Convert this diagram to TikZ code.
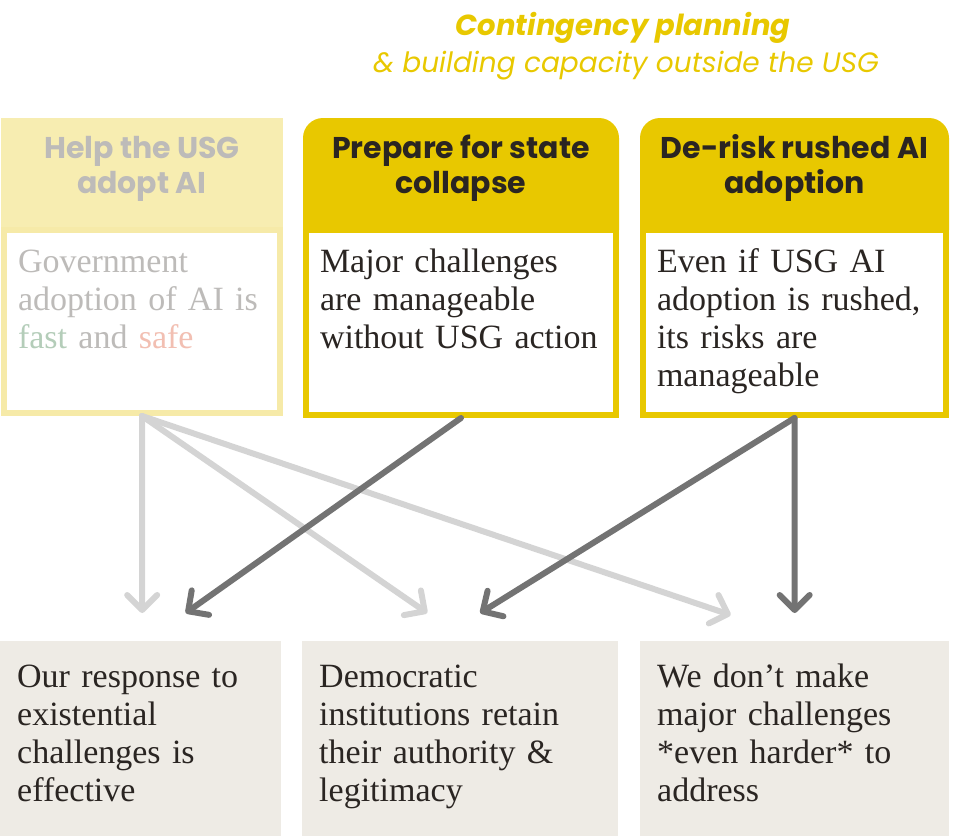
\documentclass[tikz,border=0pt]{standalone}
\usepackage{fontspec}
\setmainfont{Liberation Serif}
\newfontfamily\headfont{Poppins}
\usetikzlibrary{arrows.meta,positioning}

\definecolor{gold}{HTML}{E8C800}
\definecolor{paleyellow}{HTML}{F7EDB1}
\definecolor{paleborder}{HTML}{F6EAA8}
\definecolor{fadedtext}{HTML}{BDBBB9}
\definecolor{inktext}{HTML}{2A2522}
\definecolor{sand}{HTML}{EEEBE5}
\definecolor{lightarrow}{HTML}{D4D4D4}
\definecolor{darkarrow}{HTML}{737373}
\definecolor{fastgreen}{HTML}{B4CDB9}
\definecolor{safepink}{HTML}{F2BFB2}

\begin{document}
\begin{tikzpicture}[
    x=1pt, y=-1pt,
    head/.style={anchor=north west, inner sep=0pt, outer sep=0pt, align=center,
      minimum width=316pt, text height=75pt, text depth=57pt, text=inktext,
      font=\headfont\bfseries\fontsize{30}{35}\selectfont},
    claim/.style={anchor=north west, inner xsep=14pt, inner ysep=0pt, align=left,
      fill=white, draw=gold, line width=6pt, minimum width=310pt,
      text height=42pt, text depth=143pt, text width=282pt, text=inktext,
      font=\fontsize{34}{38}\selectfont},
    goal/.style={anchor=north west, inner xsep=17pt, inner ysep=0pt, align=left,
      fill=sand, text height=46pt, text depth=149pt, text=inktext,
      font=\fontsize{34}{38}\selectfont},
    link/.style={line width=6pt, line cap=round,
      -{Straight Barb[length=15pt, width=30pt, round]}},
    weak/.style={link, draw=lightarrow},
    strong/.style={link, draw=darkarrow}
  ]
  \useasboundingbox (0,0) rectangle (962,836);

  % title
  \node[text=gold, font=\headfont\bfseries\itshape\fontsize{29}{32}\selectfont]
    (title) at (623,28) {Contingency planning};
  \node[text=gold, font=\headfont\itshape\fontsize{28}{32}\selectfont]
    (subtitle) at (626,66) {\& building capacity outside the USG};

  % top boxes
  \node[head, fill=paleyellow, minimum width=282pt, text depth=37pt,
      text=fadedtext]
    (help-head) at (1,118) {Help the USG\\adopt AI};
  \node[claim, draw=paleborder, minimum width=276pt, text width=248pt,
      text depth=141pt, text=fadedtext]
    (help-body) at (1,227) {Government\\adoption of AI is\\%
      {\color{fastgreen}fast} and {\color{safepink}safe}};

  \node[head, fill=gold, rounded corners=20pt]
    (collapse-head) at (303,118) {Prepare for state\\collapse};
  \node[claim] (collapse-body) at (303,227)
    {Major challenges\\are manageable\\without USG action};

  \node[head, fill=gold, rounded corners=20pt, minimum width=309pt]
    (derisk-head) at (640,118) {De-risk rushed AI\\adoption};
  \node[claim, minimum width=303pt, text width=275pt] (derisk-body) at (640,227)
    {Even if USG AI\\adoption is rushed,\\its risks are\\manageable};

  % bottom boxes
  \node[goal, minimum width=281pt, text width=247pt] (effective) at (0,641)
    {Our response to\\existential\\challenges is\\effective};
  \node[goal, minimum width=316pt, text width=282pt] (democratic) at (302,641)
    {Democratic\\institutions retain\\their authority \&\\legitimacy};
  \node[goal, minimum width=309pt, text width=275pt] (harder) at (640,641)
    {We don’t make\\major challenges\\{*}even harder{*} to\\address};

  % arrows
  \draw[weak] (help-body.south) -- ([xshift=1.5pt, yshift=28pt]effective.north);
  \draw[weak] (help-body.south) -- ([xshift=-33pt, yshift=28pt]democratic.north);
  \draw[weak] (help-body.south) -- ([xshift=-64pt, yshift=26pt]harder.north);

  \draw[strong] (collapse-body.south) -- ([xshift=45pt, yshift=28pt]effective.north);
  \draw[strong] (derisk-body.south) -- ([xshift=20pt, yshift=28pt]democratic.north);
  \draw[strong] (derisk-body.south) -- ([yshift=28pt]harder.north);

\end{tikzpicture}
\end{document}
